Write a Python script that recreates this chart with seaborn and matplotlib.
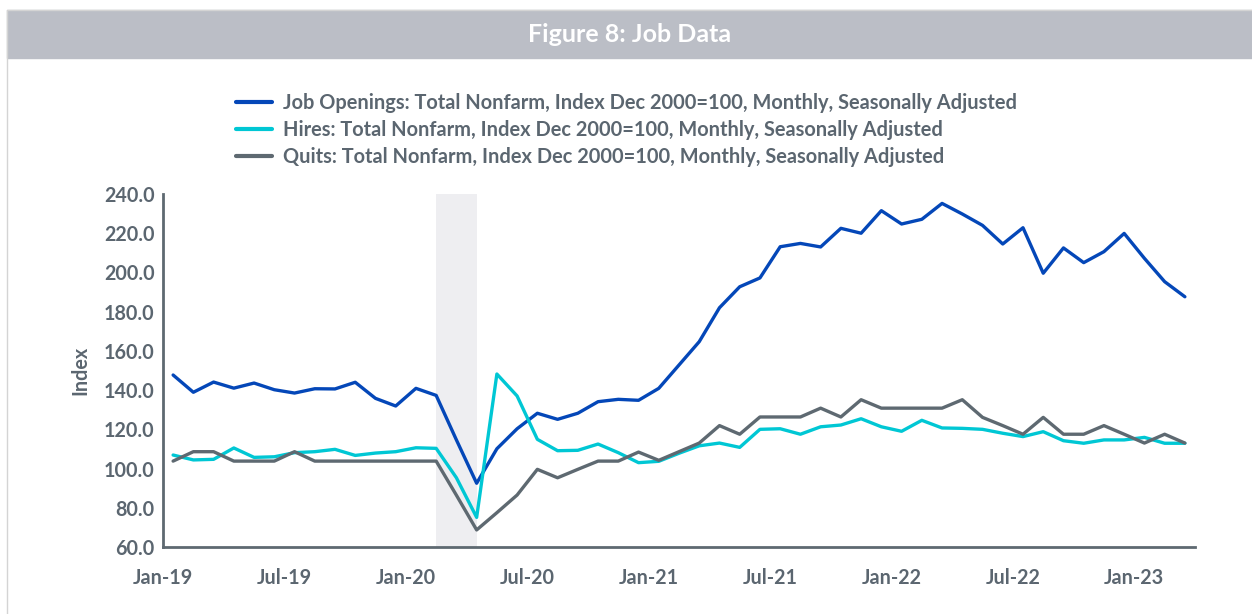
import pandas as pd
import matplotlib.pyplot as plt
import seaborn as sns
from matplotlib.patches import Rectangle
from matplotlib.lines import Line2D

# Monthly index values (Dec 2000 = 100), Jan-2019 .. Mar-2023
months = pd.date_range("2019-01-01", periods=51, freq="MS")

openings = [147.7, 138.9, 144.1, 141.0, 143.6, 140.2, 138.5, 140.7, 140.6, 144.0,
            135.8, 131.9, 140.9, 137.3, 114.6, 92.5, 110.1, 120.3, 128.2, 125.1,
            128.2, 134.1, 135.3, 134.8, 140.9, 152.8, 164.7, 182.0, 192.7, 197.2,
            213.1, 214.8, 213.0, 222.5, 220.0, 231.5, 224.7, 227.1, 235.2, 229.8,
            224.0, 214.5, 222.8, 199.6, 212.5, 205.0, 210.6, 219.9, 207.2, 195.3,
            187.6]
hires = [106.9, 104.4, 104.7, 110.5, 105.7, 106.0, 108.1, 108.6, 109.8, 106.7,
         107.9, 108.6, 110.6, 110.3, 95.3, 75.1, 148.2, 137.0, 114.9, 109.1,
         109.3, 112.5, 108.1, 103.0, 103.7, 107.8, 111.6, 113.0, 110.8, 120.0,
         120.3, 117.5, 121.3, 122.2, 125.4, 121.3, 119.0, 124.6, 120.7, 120.5,
         120.0, 118.0, 116.3, 118.8, 114.2, 112.9, 114.6, 114.6, 115.9, 112.9,
         112.9]
quits = [103.8, 108.6, 108.6, 103.8, 103.8, 103.8, 108.6, 103.8, 103.8, 103.8,
         103.8, 103.8, 103.8, 103.8, 86.4, 68.7, 77.5, 86.5, 99.6, 95.3,
         99.6, 103.8, 103.8, 108.4, 104.2, 108.6, 113.0, 121.9, 117.5, 126.3,
         126.3, 126.3, 130.8, 126.3, 135.1, 130.8, 130.8, 130.8, 130.8, 135.1,
         126.1, 121.9, 117.5, 126.1, 117.5, 117.5, 121.9, 117.5, 113.0, 117.5,
         113.0]

series_names = [
    "Job Openings: Total Nonfarm, Index Dec 2000=100, Monthly, Seasonally Adjusted",
    "Hires: Total Nonfarm, Index Dec 2000=100, Monthly, Seasonally Adjusted",
    "Quits: Total Nonfarm, Index Dec 2000=100, Monthly, Seasonally Adjusted",
]
colors = ["#0447B8", "#00C7D4", "#5E6971"]
recession_start = "2020-02-01"
recession_end = "2020-04-01"

text_col = "#5B6670"
font = ["Lato", "DejaVu Sans"]

frames = []
for name, vals in zip(series_names, [openings, hires, quits]):
    frames.append(pd.DataFrame({"pos": range(len(months)), "month": months,
                                "value": vals, "series": name}))
df = pd.concat(frames, ignore_index=True)

sns.set_style("white")
plt.rcParams["font.family"] = font
plt.rcParams["font.weight"] = "bold"

fig = plt.figure(figsize=(12.52, 6.14), dpi=100)
W, H = 1252, 614

# title banner and frame
fig.patches.append(Rectangle((7 / W, 1 - 58 / H), 1 - 7 / W, 48 / H,
                             transform=fig.transFigure, color="#BBBEC6", zorder=0))
fig.lines.append(Line2D([7 / W, 1], [1 - 9.5 / H, 1 - 9.5 / H],
                        transform=fig.transFigure, color="#D4D4D4", lw=1))
fig.lines.append(Line2D([7 / W, 7 / W], [0, 1 - 9.5 / H],
                        transform=fig.transFigure, color="#D4D4D4", lw=1))
fig.text(630 / W, 1 - 35 / H, "Figure 8: Job Data", color="white",
         fontsize=18, fontweight="bold", ha="center", va="center")

ax = fig.add_axes([163 / W, 1 - 547 / H, (1195 - 163) / W, (547 - 194) / H])

i0 = list(months).index(pd.Timestamp(recession_start))
i1 = list(months).index(pd.Timestamp(recession_end))
ax.axvspan(i0, i1, color="#EEEEF1", lw=0, zorder=0)

sns.lineplot(data=df, x="pos", y="value", hue="series", hue_order=series_names,
             palette=colors, linewidth=2.4, ax=ax, legend=False)

ax.set_xlim(-0.5, 50.5)
ax.set_ylim(60, 240)
ax.set_yticks(range(60, 241, 20))
ax.set_yticklabels([f"{v:.1f}" for v in range(60, 241, 20)])
tick_idx = list(range(0, len(months), 6))
ax.set_xticks([i - 0.5 for i in tick_idx])
ax.set_xticklabels([months[i].strftime("%b-%y") for i in tick_idx])
ax.tick_params(length=0, labelsize=14.2, labelcolor=text_col)
ax.tick_params(axis="x", pad=15)
ax.tick_params(axis="y", pad=6)
ax.set_xlabel("")
ax.set_ylabel("Index", fontsize=14.2, color=text_col, fontweight="bold", labelpad=10)

for s in ["top", "right"]:
    ax.spines[s].set_visible(False)
for s in ["left", "bottom"]:
    ax.spines[s].set_color("#5E6971")
    ax.spines[s].set_linewidth(2)

handles = [Line2D([], [], color=c, lw=3) for c in colors]
leg = fig.legend(handles, series_names, loc="upper left",
                 bbox_to_anchor=(228 / W, 1 - 85 / H), frameon=False,
                 fontsize=14.4, handlelength=1.8, handletextpad=0.55,
                 labelspacing=0.36, borderaxespad=0)
for t in leg.get_texts():
    t.set_color(text_col)
    t.set_fontweight("bold")

fig.savefig("out.png", dpi=100)
